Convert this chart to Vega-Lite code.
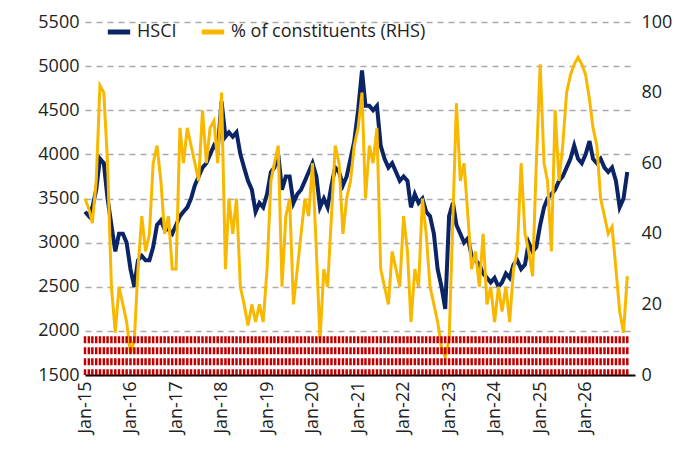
{
  "$schema": "https://vega.github.io/schema/vega-lite/v6.json",
  "width": 550,
  "height": 353,
  "autosize": {"type": "none"},
  "padding": {"left": 85, "top": 22, "right": 57, "bottom": 83},
  "config": {
    "view": {"stroke": null},
    "font": "Open Sans",
    "axis": {"labelFontSize": 18, "labelColor": "#222", "ticks": false, "domain": false, "title": null, "labelPadding": 6, "format": "d"}
  },
  "data": {"values": [
    {"d":"2015-01-01","h":3350,"p":50},{"d":"2015-02-01","h":3300,"p":47},{"d":"2015-03-01","h":3400,"p":43},{"d":"2015-04-01","h":3600,"p":55},{"d":"2015-05-01","h":3950,"p":82},{"d":"2015-06-01","h":3900,"p":80},{"d":"2015-07-01","h":3500,"p":60},{"d":"2015-08-01","h":3200,"p":25},{"d":"2015-09-01","h":2900,"p":12},{"d":"2015-10-01","h":3100,"p":25},{"d":"2015-11-01","h":3100,"p":20},{"d":"2015-12-01","h":3000,"p":15},
    {"d":"2016-01-01","h":2700,"p":6},{"d":"2016-02-01","h":2500,"p":10},{"d":"2016-03-01","h":2800,"p":30},{"d":"2016-04-01","h":2850,"p":45},{"d":"2016-05-01","h":2800,"p":35},{"d":"2016-06-01","h":2800,"p":40},{"d":"2016-07-01","h":2950,"p":60},{"d":"2016-08-01","h":3200,"p":65},{"d":"2016-09-01","h":3250,"p":55},{"d":"2016-10-01","h":3150,"p":40},{"d":"2016-11-01","h":3150,"p":45},{"d":"2016-12-01","h":3100,"p":30},
    {"d":"2017-01-01","h":3200,"p":30},{"d":"2017-02-01","h":3300,"p":70},{"d":"2017-03-01","h":3350,"p":60},{"d":"2017-04-01","h":3400,"p":70},{"d":"2017-05-01","h":3500,"p":65},{"d":"2017-06-01","h":3650,"p":60},{"d":"2017-07-01","h":3750,"p":55},{"d":"2017-08-01","h":3850,"p":75},{"d":"2017-09-01","h":3900,"p":60},{"d":"2017-10-01","h":4000,"p":70},{"d":"2017-11-01","h":4100,"p":72},{"d":"2017-12-01","h":4050,"p":60},
    {"d":"2018-01-01","h":4600,"p":80},{"d":"2018-02-01","h":4200,"p":30},{"d":"2018-03-01","h":4250,"p":50},{"d":"2018-04-01","h":4200,"p":40},{"d":"2018-05-01","h":4250,"p":50},{"d":"2018-06-01","h":4000,"p":25},{"d":"2018-07-01","h":3850,"p":20},{"d":"2018-08-01","h":3700,"p":14},{"d":"2018-09-01","h":3600,"p":20},{"d":"2018-10-01","h":3350,"p":15},{"d":"2018-11-01","h":3450,"p":20},{"d":"2018-12-01","h":3400,"p":15},
    {"d":"2019-01-01","h":3550,"p":30},{"d":"2019-02-01","h":3800,"p":55},{"d":"2019-03-01","h":3850,"p":60},{"d":"2019-04-01","h":4000,"p":65},{"d":"2019-05-01","h":3600,"p":25},{"d":"2019-06-01","h":3750,"p":45},{"d":"2019-07-01","h":3750,"p":50},{"d":"2019-08-01","h":3450,"p":20},{"d":"2019-09-01","h":3550,"p":30},{"d":"2019-10-01","h":3600,"p":40},{"d":"2019-11-01","h":3700,"p":50},{"d":"2019-12-01","h":3800,"p":45},
    {"d":"2020-01-01","h":3900,"p":60},{"d":"2020-02-01","h":3750,"p":35},{"d":"2020-03-01","h":3400,"p":10},{"d":"2020-04-01","h":3500,"p":30},{"d":"2020-05-01","h":3400,"p":25},{"d":"2020-06-01","h":3650,"p":45},{"d":"2020-07-01","h":3850,"p":65},{"d":"2020-08-01","h":3800,"p":60},{"d":"2020-09-01","h":3650,"p":40},{"d":"2020-10-01","h":3750,"p":50},{"d":"2020-11-01","h":3950,"p":55},{"d":"2020-12-01","h":4150,"p":65},
    {"d":"2021-01-01","h":4500,"p":70},{"d":"2021-02-01","h":4950,"p":80},{"d":"2021-03-01","h":4550,"p":50},{"d":"2021-04-01","h":4550,"p":65},{"d":"2021-05-01","h":4500,"p":60},{"d":"2021-06-01","h":4550,"p":70},{"d":"2021-07-01","h":4100,"p":30},{"d":"2021-08-01","h":3950,"p":25},{"d":"2021-09-01","h":3850,"p":20},{"d":"2021-10-01","h":3900,"p":35},{"d":"2021-11-01","h":3800,"p":30},{"d":"2021-12-01","h":3700,"p":25},
    {"d":"2022-01-01","h":3750,"p":45},{"d":"2022-02-01","h":3700,"p":35},{"d":"2022-03-01","h":3400,"p":15},{"d":"2022-04-01","h":3550,"p":30},{"d":"2022-05-01","h":3450,"p":25},{"d":"2022-06-01","h":3500,"p":50},{"d":"2022-07-01","h":3350,"p":40},{"d":"2022-08-01","h":3300,"p":25},{"d":"2022-09-01","h":3100,"p":20},{"d":"2022-10-01","h":2700,"p":15},{"d":"2022-11-01","h":2500,"p":8},{"d":"2022-12-01","h":2250,"p":5},
    {"d":"2023-01-01","h":3300,"p":10},{"d":"2023-02-01","h":3450,"p":45},{"d":"2023-03-01","h":3200,"p":77},{"d":"2023-04-01","h":3100,"p":55},{"d":"2023-05-01","h":3000,"p":60},{"d":"2023-06-01","h":3050,"p":45},{"d":"2023-07-01","h":2850,"p":30},{"d":"2023-08-01","h":2800,"p":35},{"d":"2023-09-01","h":2750,"p":25},{"d":"2023-10-01","h":2650,"p":40},{"d":"2023-11-01","h":2600,"p":20},{"d":"2023-12-01","h":2550,"p":25},
    {"d":"2024-01-01","h":2600,"p":15},{"d":"2024-02-01","h":2500,"p":25},{"d":"2024-03-01","h":2550,"p":18},{"d":"2024-04-01","h":2650,"p":25},{"d":"2024-05-01","h":2600,"p":15},{"d":"2024-06-01","h":2750,"p":30},{"d":"2024-07-01","h":2800,"p":35},{"d":"2024-08-01","h":2700,"p":60},{"d":"2024-09-01","h":2750,"p":40},{"d":"2024-10-01","h":3000,"p":35},{"d":"2024-11-01","h":2900,"p":28},{"d":"2024-12-01","h":2950,"p":60},
    {"d":"2025-01-01","h":3200,"p":88},{"d":"2025-02-01","h":3400,"p":60},{"d":"2025-03-01","h":3500,"p":55},{"d":"2025-04-01","h":3550,"p":35},{"d":"2025-05-01","h":3600,"p":75},{"d":"2025-06-01","h":3700,"p":55},{"d":"2025-07-01","h":3750,"p":65},{"d":"2025-08-01","h":3850,"p":80},{"d":"2025-09-01","h":3950,"p":85},{"d":"2025-10-01","h":4100,"p":88},{"d":"2025-11-01","h":3950,"p":90},{"d":"2025-12-01","h":3900,"p":88},
    {"d":"2026-01-01","h":4000,"p":85},{"d":"2026-02-01","h":4150,"p":78},{"d":"2026-03-01","h":3950,"p":70},{"d":"2026-04-01","h":3900,"p":65},{"d":"2026-05-01","h":3950,"p":50},{"d":"2026-06-01","h":3850,"p":45},{"d":"2026-07-01","h":3800,"p":40},{"d":"2026-08-01","h":3850,"p":42},{"d":"2026-09-01","h":3700,"p":30},{"d":"2026-10-01","h":3400,"p":18},{"d":"2026-11-01","h":3500,"p":12},{"d":"2026-12-01","h":3800,"p":28}
  ]},
  "encoding": {
    "x": {"field": "d", "type": "temporal",
      "scale": {"domain": ["2015-01-01", "2027-02-01"]},
      "axis": {"format": "%b-%y", "labelAngle": -90, "values": ["2015-01-01","2016-01-01","2017-01-01","2018-01-01","2019-01-01","2020-01-01","2021-01-01","2022-01-01","2023-01-01","2024-01-01","2025-01-01","2026-01-01"], "domain": true, "domainColor": "#000", "domainWidth": 2, "grid": false, "labelAlign": "right", "labelBaseline": "middle"}}
  },
  "layer": [
    {
      "mark": {"type": "line", "strokeWidth": 4, "interpolate": "linear"},
      "encoding": {
        "y": {"field": "h", "type": "quantitative",
          "scale": {"domain": [1500, 5500]},
          "axis": {"values": [1500,2000,2500,3000,3500,4000,4500,5000,5500], "grid": true, "gridDash": [6, 5], "gridColor": "#aaa", "gridWidth": 1.5}},
        "color": {"datum": "HSCI", "type": "nominal",
          "scale": {"domain": ["HSCI", "% of constituents (RHS)"], "range": ["#0b2466", "#f8b800"]},
          "legend": {"orient": "none", "legendX": 20, "legendY": -4, "direction": "horizontal", "title": null, "symbolType": "stroke", "symbolStrokeWidth": 5, "symbolSize": 500, "labelFontSize": 18, "labelLimit": 400, "labelColor": "#222", "columnPadding": 14}}
      }
    },
    {
      "layer": [
        {
          "mark": {"type": "line", "strokeWidth": 3, "interpolate": "linear"},
          "encoding": {
            "y": {"field": "p", "type": "quantitative",
              "scale": {"domain": [0, 100]},
              "axis": {"orient": "right", "values": [0,10,20,30,40,50,60,70,80,90,100], "grid": false}},
            "color": {"datum": "% of constituents (RHS)", "type": "nominal"}
          }
        },
        {
          "mark": {"type": "rule", "color": "#c00000", "strokeWidth": 2.5, "strokeDash": [7, 4]},
          "encoding": {"y": {"datum": 11, "type": "quantitative"}}
        }
      ]
    }
  ],
  "resolve": {"scale": {"y": "independent"}}
}
